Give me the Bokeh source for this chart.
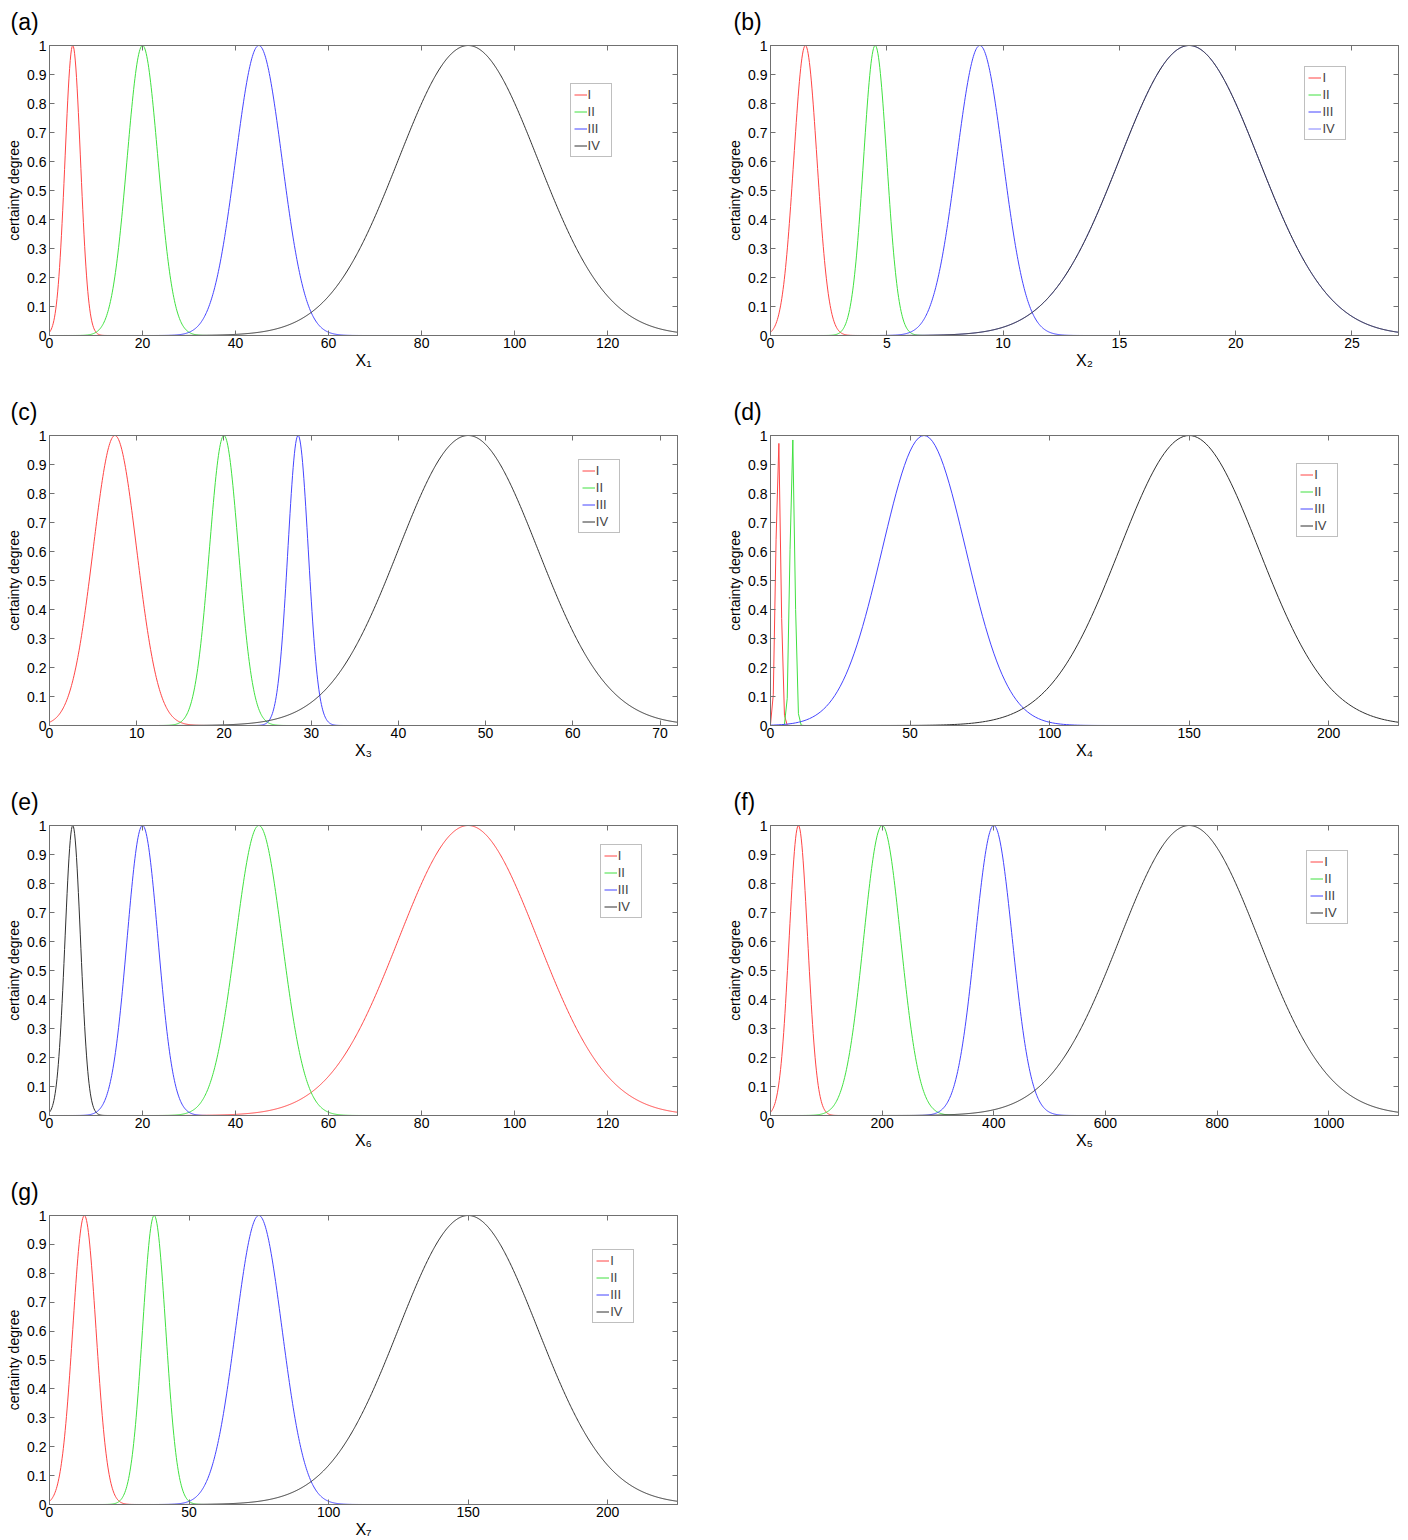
import numpy as np
from bokeh.plotting import figure
from bokeh.models import (Range1d, FixedTicker, LinearAxis, Legend, LegendItem,
                          CustomJSTickFormatter, ColumnDataSource)
from bokeh.layouts import column, row
from bokeh.embed import file_html
from bokeh.resources import INLINE

# ---------------- data ----------------
panel_tags = ["(a)", "(b)", "(c)", "(d)", "(e)", "(f)", "(g)"]
x_titles = ["X\u2081", "X\u2082", "X\u2083", "X\u2084", "X\u2086", "X\u2085", "X\u2087"]
x_max = [135, 27, 72, 225, 135, 1125, 225]
x_ticks = [
    [0, 20, 40, 60, 80, 100, 120],
    [0, 5, 10, 15, 20, 25],
    [0, 10, 20, 30, 40, 50, 60, 70],
    [0, 50, 100, 150, 200],
    [0, 20, 40, 60, 80, 100, 120],
    [0, 200, 400, 600, 800, 1000],
    [0, 50, 100, 150, 200],
]
grades = ["I", "II", "III", "IV"]

# expectation (centre) and entropy (spread) of each grade's cloud curve
ex_I   = [5,     1.5,  7.5,   2.8,   90,    50,    12.5]
en_I   = [1.667, 0.5,  2.5,   0.85,  15,    16.67, 4.167]
ex_II  = [20,    4.5,  20,    7.85,  45,    200,   37.5]
en_II  = [3.333, 0.5,  1.667, 0.85,  5,     33.33, 4.167]
ex_III = [45,    9,    28.5,  55,    20,    400,   75]
en_III = [5,     1,    1.167, 15,    3.333, 33.33, 8.333]
ex_IV  = [90,    18,   48,    150,   5,     750,   150]
en_IV  = [15,    3,    8,     25,    1.667, 125,   25]

# x extent over which each curve was drawn
end_I   = [47,  9.3,  26, 17,  135, 580,  78]
end_II  = [93,  18.7, 41, 213, 93,  780,  155]
end_III = [135, 27,   72, 225, 47,  1125, 225]
end_IV  = [135, 27,   72, 225, 20,  1125, 225]
# sampling step of the curves
x_step = [0.135, 0.027, 0.072, 1.0, 0.135, 1.125, 0.225]

y_ticks = [0, 0.1, 0.2, 0.3, 0.4, 0.5, 0.6, 0.7, 0.8, 0.9, 1]
y_tick_labels = ["0", "0.1", "0.2", "0.3", "0.4", "0.5", "0.6", "0.7", "0.8", "0.9", "1"]

legend_left_frac = [0.829, 0.851, 0.842, 0.838, 0.877, 0.854, 0.865]
legend_bottom_frac = [0.385, 0.329, 0.339, 0.353, 0.322, 0.341, 0.377]
iv_legend_blue = [False, True, False, False, False, False, False]

colors = ["#ff4545", "#40e040", "#4545ff", "#303030"]
FONT = "Liberation Sans"
FRAME_W, FRAME_H = 628, 290

ex_all = [ex_I, ex_II, ex_III, ex_IV]
en_all = [en_I, en_II, en_III, en_IV]
end_all = [end_I, end_II, end_III, end_IV]


def blank_formatter():
    return CustomJSTickFormatter(code="return ''")


def make_panel(i):
    col = 0 if i % 2 == 0 else 1
    last = (i == 6)
    if col == 0:
        mbl, mbr = 49, 47
    else:
        mbl, mbr = 46, 10
    width = mbl + FRAME_W + mbr
    mbt = 45
    mbb = 35 if last else (390 - FRAME_H - mbt)
    height = mbt + FRAME_H + mbb
    p = figure(width=width, height=height, output_backend="svg", toolbar_location=None,
               min_border_left=mbl, min_border_right=mbr, min_border_top=mbt,
               min_border_bottom=mbb, x_range=Range1d(0, x_max[i]), y_range=Range1d(0, 1),
               title=panel_tags[i])
    p.title.text_font = FONT
    p.title.text_font_size = "23px"
    p.title.text_font_style = "normal"
    p.title.text_color = "black"
    p.title.align = "left"
    p.title.vertical_align = "top"
    p.title.offset = -39 if col == 0 else -37
    p.title.standoff = 17
    p.xgrid.visible = False
    p.ygrid.visible = False
    p.outline_line_color = "#707070"
    p.background_fill_color = "white"
    p.border_fill_color = "white"

    # axes
    p.xaxis.ticker = FixedTicker(ticks=x_ticks[i])
    p.yaxis.ticker = FixedTicker(ticks=y_ticks)
    p.yaxis.major_label_overrides = {t: l for t, l in zip(y_ticks, y_tick_labels)}
    for ax in (p.xaxis[0], p.yaxis[0]):
        ax.major_tick_in = 5
        ax.major_tick_out = 0
        ax.minor_tick_in = 0
        ax.minor_tick_out = 0
        ax.axis_line_color = "#707070"
        ax.major_tick_line_color = "#707070"
        ax.major_label_text_font = FONT
        ax.major_label_text_font_size = "14px"
        ax.major_label_text_color = "black"
        ax.axis_label_text_font = FONT
        ax.axis_label_text_font_style = "normal"
        ax.axis_label_text_color = "black"
    p.xaxis.major_label_standoff = 2
    p.yaxis.major_label_standoff = 3
    p.xaxis.axis_label = x_titles[i]
    p.xaxis.axis_label_text_font_size = "16px"
    p.xaxis.axis_label_standoff = 1
    p.yaxis.axis_label = "certainty degree"
    p.yaxis.axis_label_text_font_size = "14px"
    p.yaxis.axis_label_standoff = 2

    top = LinearAxis(ticker=FixedTicker(ticks=x_ticks[i]), formatter=blank_formatter())
    right = LinearAxis(ticker=FixedTicker(ticks=y_ticks), formatter=blank_formatter())
    for ax in (top, right):
        ax.major_tick_in = 5
        ax.major_tick_out = 0
        ax.minor_tick_in = 0
        ax.minor_tick_out = 0
        ax.major_label_standoff = 0
        ax.axis_line_color = "#707070"
        ax.major_tick_line_color = "#707070"
    p.add_layout(top, "above")
    p.add_layout(right, "right")

    items = []
    for k in range(4):
        xs = np.arange(0, end_all[k][i] + 1e-9, x_step[i])
        if xs[-1] < end_all[k][i]:
            xs = np.append(xs, end_all[k][i])
        ys = np.exp(-(xs - ex_all[k][i]) ** 2 / (2 * en_all[k][i] ** 2))
        src = ColumnDataSource(dict(x=xs, y=ys))
        if k == 3 and iv_legend_blue[i]:
            rb = p.line("x", "y", source=src, line_color="#8080ff", line_width=1)
            p.line("x", "y", source=src, line_color=colors[k], line_width=1)
            items.append(LegendItem(label=grades[k], renderers=[rb]))
        else:
            r = p.line("x", "y", source=src, line_color=colors[k], line_width=1)
            items.append(LegendItem(label=grades[k], renderers=[r]))

    legend = Legend(items=items,
                    location=(legend_left_frac[i] * FRAME_W, (1 - legend_bottom_frac[i]) * FRAME_H))
    legend.label_text_font = FONT
    legend.label_text_font_size = "13px"
    legend.label_height = 15
    legend.glyph_height = 15
    legend.glyph_width = 13
    legend.label_standoff = 1
    legend.padding = 3
    legend.spacing = 2
    legend.margin = 0
    legend.border_line_color = "#7f7f7f"
    legend.border_line_width = 1
    legend.background_fill_color = "white"
    legend.background_fill_alpha = 1
    p.add_layout(legend)
    return p


panels = [make_panel(i) for i in range(7)]
layout = column(
    row(panels[0], panels[1]),
    row(panels[2], panels[3]),
    row(panels[4], panels[5]),
    row(panels[6]),
)

open("out.html", "w").write(file_html(layout, INLINE))
